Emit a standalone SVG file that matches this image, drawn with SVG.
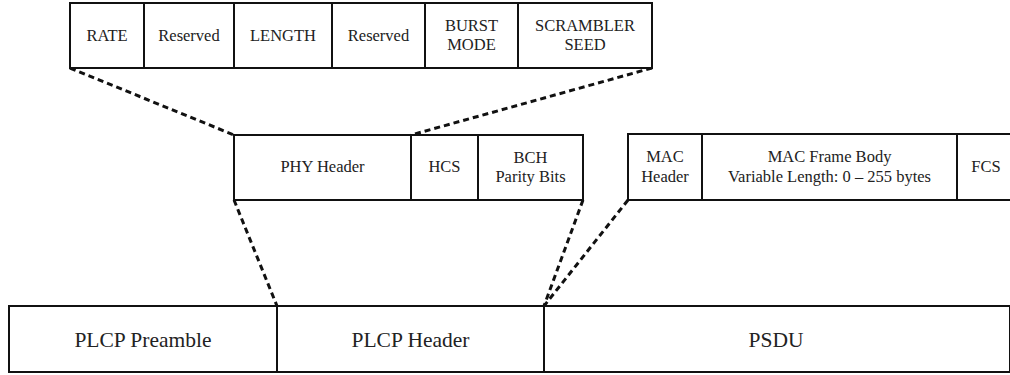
<svg xmlns="http://www.w3.org/2000/svg" width="1010" height="375" viewBox="0 0 1010 375">
<style>
.b{fill:#fff;stroke:#111;stroke-width:2}
.d{stroke:#111;stroke-width:2}
.c{fill:none;stroke:#111;stroke-width:3;stroke-dasharray:6 4}
text{font-family:"Liberation Serif","Times New Roman",serif;fill:#222;text-anchor:middle}
.s{font-size:16.5px}
.l{font-size:21.5px}
</style>
<rect width="1010" height="375" fill="#fff"/>
<g id="connectors">
<line class="c" x1="70" y1="68" x2="234" y2="135"/>
<line class="c" x1="652" y1="68" x2="411" y2="135"/>
<line class="c" x1="234" y1="200" x2="277" y2="306"/>
<line class="c" x1="583" y1="200" x2="544" y2="306"/>
<line class="c" x1="628" y1="200" x2="544" y2="306"/>
</g>
<g id="phy-fields">
<rect class="b" x="70" y="3" width="582" height="65"/>
<line class="d" x1="144" y1="3" x2="144" y2="68"/>
<line class="d" x1="234" y1="3" x2="234" y2="68"/>
<line class="d" x1="332" y1="3" x2="332" y2="68"/>
<line class="d" x1="425" y1="3" x2="425" y2="68"/>
<line class="d" x1="518" y1="3" x2="518" y2="68"/>
<text class="s" x="107" y="41">RATE</text>
<text class="s" x="189" y="41">Reserved</text>
<text class="s" x="283" y="41">LENGTH</text>
<text class="s" x="378.5" y="41">Reserved</text>
<text class="s" x="471.5" y="31">BURST</text>
<text class="s" x="471.5" y="50">MODE</text>
<text class="s" x="585" y="31">SCRAMBLER</text>
<text class="s" x="585" y="50">SEED</text>
</g>
<g id="plcp-header-fields">
<rect class="b" x="234" y="135" width="349" height="65"/>
<line class="d" x1="411" y1="135" x2="411" y2="200"/>
<line class="d" x1="478" y1="135" x2="478" y2="200"/>
<text class="s" x="322.5" y="172">PHY Header</text>
<text class="s" x="444.5" y="172">HCS</text>
<text class="s" x="530.5" y="163">BCH</text>
<text class="s" x="530.5" y="182">Parity Bits</text>
</g>
<g id="psdu-fields">
<rect class="b" x="628" y="134" width="390" height="66"/>
<line class="d" x1="702" y1="134" x2="702" y2="200"/>
<line class="d" x1="957" y1="134" x2="957" y2="200"/>
<text class="s" x="665" y="162">MAC</text>
<text class="s" x="665" y="182">Header</text>
<text class="s" x="829.5" y="162">MAC Frame Body</text>
<text class="s" x="829.5" y="182">Variable Length: 0 – 255 bytes</text>
<text class="s" x="986" y="172">FCS</text>
</g>
<g id="ppdu">
<rect class="b" x="9" y="306" width="1001" height="66"/>
<line class="d" x1="277" y1="306" x2="277" y2="372"/>
<line class="d" x1="544" y1="306" x2="544" y2="372"/>
<text class="l" x="143" y="347">PLCP Preamble</text>
<text class="l" x="410.5" y="347">PLCP Header</text>
<text class="l" x="776" y="347">PSDU</text>
</g>
</svg>
